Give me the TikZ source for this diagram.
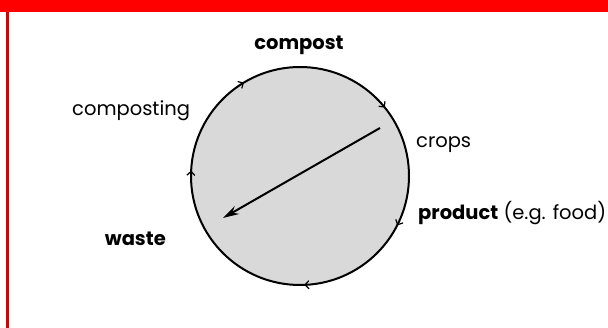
\documentclass[tikz,border=0pt]{standalone}
\usepackage{fontspec}
\setmainfont{Poppins}
\usetikzlibrary{arrows.meta,decorations.markings}
\tikzset{
  lbl/.style={font=\fontsize{19.5}{22}\selectfont, inner sep=0pt},
  flow/.style={postaction={decorate},
    decoration={markings,
      mark=at position 0.075 with {\arrow{Straight Barb[length=4pt,width=8pt,line width=1.2pt]}},
      mark=at position 0.244 with {\arrow{Straight Barb[length=4pt,width=8pt,line width=1.2pt]}},
      mark=at position 0.508 with {\arrow{Straight Barb[length=4pt,width=8pt,line width=1.2pt]}},
      mark=at position 0.664 with {\arrow{Straight Barb[length=4pt,width=8pt,line width=1.2pt]}},
      mark=at position 0.892 with {\arrow{Straight Barb[length=4pt,width=8pt,line width=1.2pt]}}}}
}
\begin{document}
\begin{tikzpicture}[x=1pt,y=-1pt]
\useasboundingbox (0,0) rectangle (608,328);
\fill[white] (0,0) rectangle (608,328);
% frame
\fill[red] (0,0) rectangle (608,12);
\fill[red!85!black] (6,12) rectangle (8.5,328);
% cycle
\coordinate (centre) at (300,176);
\draw[line width=2pt, fill=black!15, flow] (centre) circle[radius=109];
% labels
\node[lbl, font=\fontsize{19.5}{22}\selectfont\bfseries] (compost) at (299,45) {compost};
\node[lbl, anchor=west] (composting) at (72,111) {composting};
\node[lbl, anchor=west] (crops) at (416,145) {crops};
\node[lbl, anchor=west] (product) at (418,213) {\textbf{product} (e.g. food)};
\node[lbl, font=\fontsize{19.5}{22}\selectfont\bfseries, anchor=east] (waste) at (166,239) {waste};
% direct path
\coordinate (cropsend) at (380,128);
\coordinate (wasteend) at (223,218);
\draw[line width=2pt, -{Stealth[length=16pt,width=9pt]}] (cropsend) -- (wasteend);
\end{tikzpicture}
\end{document}
